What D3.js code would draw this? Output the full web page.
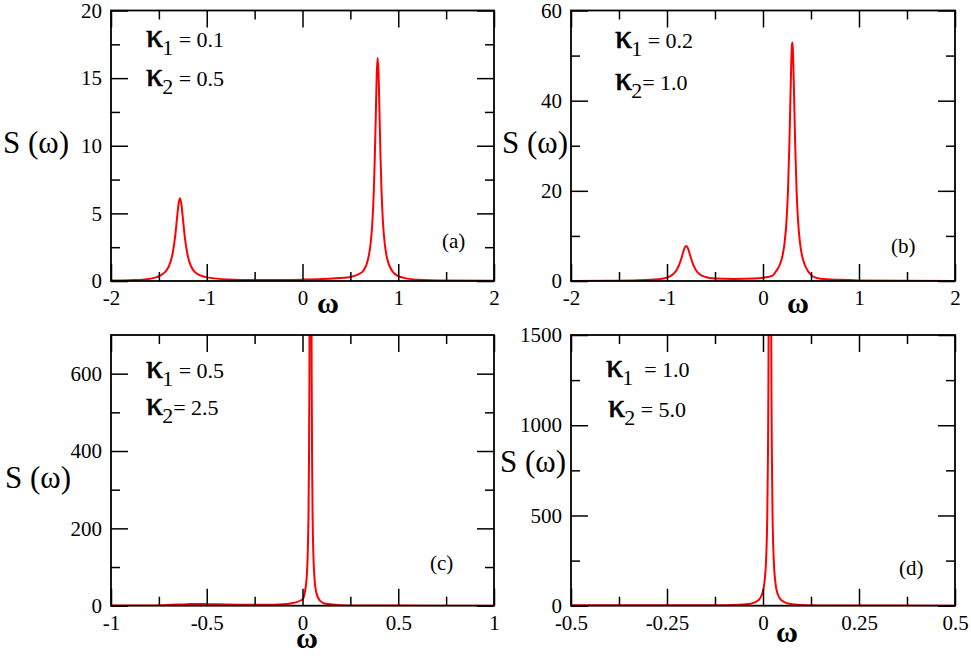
<!DOCTYPE html>
<html>
<head>
<meta charset="utf-8">
<script src="https://cdn.jsdelivr.net/npm/d3@7"></script>
<style>
  body { margin: 0; background: #fff; }
  svg text { fill: #000; white-space: pre; }
</style>
</head>
<body>
<div id="chart"></div>
<script>
// panel (a): kappa1 = 0.1, kappa2 = 0.5
var omegaA = [-2.0, -1.8, -1.65, -1.55, -1.48, -1.42, -1.38, -1.355, -1.33, -1.31, -1.295, -1.28,
  -1.265, -1.25, -1.23, -1.205, -1.18, -1.14, -1.08, -0.98, -0.78, -0.5, -0.2, 0.0, 0.2, 0.35,
  0.485, 0.585, 0.635, 0.685, 0.71, 0.73, 0.745, 0.755, 0.765, 0.775, 0.785,
  0.795, 0.805, 0.815, 0.825, 0.84, 0.86, 0.885, 0.935, 0.985, 1.05, 1.2, 1.5, 2.0];
var specA = [0.03, 0.06, 0.12, 0.23, 0.42, 0.79, 1.38, 2.09, 3.3, 4.68, 5.68, 6.12,
  5.68, 4.68, 3.3, 2.09, 1.38, 0.79, 0.45, 0.25, 0.12, 0.08, 0.08, 0.1, 0.14, 0.2,
  0.28, 0.5, 0.76, 1.63, 2.69, 4.38, 6.71, 9.07, 12.1, 15.2, 16.5,
  15.2, 12.1, 9.07, 6.71, 4.38, 2.69, 1.63, 0.76, 0.42, 0.25, 0.1, 0.04, 0.02];

// panel (b): kappa1 = 0.2, kappa2 = 1.0
var omegaB = [-2.0, -1.6, -1.3, -1.1, -1.0, -0.94, -0.9, -0.875, -0.85, -0.83, -0.815, -0.8,
  -0.785, -0.77, -0.75, -0.725, -0.7, -0.66, -0.6, -0.5, -0.3, -0.1, 0.0, 0.1, 0.135,
  0.175, 0.205, 0.225, 0.245, 0.26, 0.275, 0.285, 0.295, 0.3, 0.305,
  0.31, 0.315, 0.325, 0.335, 0.35, 0.365, 0.385, 0.405, 0.435, 0.475, 0.52, 0.6, 0.8, 1.0, 1.5, 2.0];
var specB = [0.02, 0.06, 0.16, 0.38, 0.75, 1.45, 2.46, 3.5, 5.04, 6.49, 7.4, 7.76,
  7.4, 6.49, 5.04, 3.5, 2.46, 1.5, 0.9, 0.55, 0.45, 0.55, 0.72, 1.2, 2.15,
  3.6, 5.8, 8.5, 13.4, 19.9, 30.5, 39.9, 48.9, 51.8, 52.9,
  51.8, 48.9, 39.9, 30.5, 19.9, 13.4, 8.5, 5.8, 3.6, 2.0, 1.0, 0.5, 0.25, 0.12, 0.04, 0.02];

// panel (c): kappa1 = 0.5, kappa2 = 2.5
var omegaC = [-1.0, -0.8, -0.7, -0.6, -0.55, -0.5, -0.4, -0.3, -0.2, -0.1, -0.05, 0.0, 0.012,
  0.022, 0.027, 0.031, 0.034, 0.036, 0.038, 0.04, 0.042, 0.044, 0.046, 0.048, 0.05, 0.053,
  0.057, 0.062, 0.072, 0.092, 0.122, 0.2, 0.3, 0.5, 1.0];
var specC = [0.3, 0.8, 2, 4, 4.5, 4, 3, 2.5, 2.5, 4, 7, 16, 34,
  75, 129, 225, 381, 577, 911, 1398, 1700, 1398, 911, 577, 381, 225,
  129, 75, 34, 12.5, 4.9, 1.4, 0.6, 0.2, 0.05];

// panel (d): kappa1 = 1.0, kappa2 = 5.0
var omegaD = [-0.5, -0.4, -0.3, -0.2, -0.1, -0.062, -0.032, -0.012, -0.002, 0.004, 0.008, 0.011,
  0.013, 0.014, 0.015, 0.016, 0.017, 0.018, 0.019, 0.02, 0.021, 0.022, 0.023, 0.025, 0.028,
  0.032, 0.038, 0.048, 0.068, 0.098, 0.168, 0.3, 0.5];
var specD = [3, 2.5, 2, 2, 3, 5, 11, 30, 66, 133, 253, 485,
  851, 1188, 1716, 2513, 3484, 4000, 3484, 2513, 1716, 1188, 851, 485, 253,
  133, 66, 30, 10.8, 4.2, 1.2, 0.5, 0.2];

// axis ranges and ticks
var xDomainAB = [-2, 2], xMajorAB = [-2, -1, 0, 1, 2], xMinorAB = [-1.5, -0.5, 0.5, 1.5];
var xDomainC = [-1, 1], xMajorC = [-1, -0.5, 0, 0.5, 1], xMinorC = [-0.75, -0.25, 0.25, 0.75];
var xDomainD = [-0.5, 0.5], xMajorD = [-0.5, -0.25, 0, 0.25, 0.5], xMinorD = [-0.375, -0.125, 0.125, 0.375];
var yDomainA = [0, 20], yMajorA = [0, 5, 10, 15, 20], yMinorA = [2.5, 7.5, 12.5, 17.5];
var yDomainB = [0, 60], yMajorB = [0, 20, 40, 60], yMinorB = [10, 30, 50];
var yDomainC = [0, 700], yMajorC = [0, 200, 400, 600], yMinorC = [100, 300, 500];
var yDomainD = [0, 1500], yMajorD = [0, 500, 1000, 1500], yMinorD = [250, 750, 1250];

// annotations
var kappa1 = ["0.1", "0.2", "0.5", "1.0"];
var kappa2 = ["0.5", "1.0", "2.5", "5.0"];
var eqGap1 = [" = ", " = ", " = ", "  = "];
var eqGap2 = [" = ", "= ", "= ", " = "];
var panelTags = ["(a)", "(b)", "(c)", "(d)"];

var panels = [
  {omega: omegaA, s: specA, xd: xDomainAB, xM: xMajorAB, xm: xMinorAB, yd: yDomainA, yM: yMajorA, ym: yMinorA,
   box: [111, 494, 10.5, 281], ylab: [3, 153], wlab: [328, 313], k1: [146, 47], k2: [146, 86], tag: [442, 248]},
  {omega: omegaB, s: specB, xd: xDomainAB, xM: xMajorAB, xm: xMinorAB, yd: yDomainB, yM: yMajorB, ym: yMinorB,
   box: [571, 955, 10.5, 281], ylab: [502, 153], wlab: [798, 313], k1: [615, 48], k2: [615, 90], tag: [891, 253]},
  {omega: omegaC, s: specC, xd: xDomainC, xM: xMajorC, xm: xMinorC, yd: yDomainC, yM: yMajorC, ym: yMinorC,
   box: [111, 494, 335, 605.7], ylab: [5, 488], wlab: [307, 648], k1: [146, 378], k2: [146, 415], tag: [430, 570]},
  {omega: omegaD, s: specD, xd: xDomainD, xM: xMajorD, xm: xMinorD, yd: yDomainD, yM: yMajorD, ym: yMinorD,
   box: [571, 955, 335, 605.7], ylab: [500, 472], wlab: [787, 642], k1: [606, 377], k2: [608, 417], tag: [899, 575]}
];

var serif = "Liberation Serif";

var svg = d3.select("#chart")
  .append("svg")
    .attr("width", 971)
    .attr("height", 656)
    .attr("font-family", serif);

var majorLen = 17, minorLen = 9;

panels.forEach(function(p, i) {
  var x0 = p.box[0], x1 = p.box[1], y0 = p.box[2], y1 = p.box[3];
  var w = x1 - x0, h = y1 - y0;

  var x = d3.scaleLinear().domain(p.xd).range([0, w]);
  var y = d3.scaleLinear().domain(p.yd).range([h, 0]);

  var g = svg.append("g").attr("transform", "translate(" + x0 + "," + y0 + ")");

  g.append("clipPath").attr("id", "clip" + i)
    .append("rect").attr("width", w).attr("height", h);

  // the spectrum
  var pts = p.omega.map(function(o, j) { return [o, p.s[j]]; });
  g.append("path")
    .datum(pts)
    .attr("clip-path", "url(#clip" + i + ")")
    .attr("fill", "none")
    .attr("stroke", "#ff0000")
    .attr("stroke-width", 2)
    .attr("d", d3.line()
      .x(function(d) { return x(d[0]); })
      .y(function(d) { return y(d[1]); })
      .curve(d3.curveMonotoneX));

  // ticks: major with labels, minor without, mirrored on all four sides
  function ticks(axisFn, scale, vals, len, labels, tr) {
    var a = g.append("g").attr("transform", tr)
      .call(axisFn(scale).tickValues(vals).tickSize(-len).tickSizeOuter(0)
        .tickPadding(9).tickFormat(labels ? function(d) { return String(d); } : ""));
    a.attr("font-family", serif).attr("font-size", 21);
    a.select(".domain").remove();
    a.selectAll("line").attr("stroke", "#000").attr("stroke-width", 1.5);
    a.selectAll("text").attr("fill", "#000");
    return a;
  }
  ticks(d3.axisBottom, x, p.xM, majorLen, true, "translate(0," + h + ")");
  ticks(d3.axisBottom, x, p.xm, minorLen, false, "translate(0," + h + ")");
  ticks(d3.axisTop, x, p.xM, majorLen, false, "translate(0,0)");
  ticks(d3.axisTop, x, p.xm, minorLen, false, "translate(0,0)");
  ticks(d3.axisLeft, y, p.yM, majorLen, true, "translate(0,0)");
  ticks(d3.axisLeft, y, p.ym, minorLen, false, "translate(0,0)");
  ticks(d3.axisRight, y, p.yM, majorLen, false, "translate(" + w + ",0)");
  ticks(d3.axisRight, y, p.ym, minorLen, false, "translate(" + w + ",0)");

  // frame
  g.append("rect")
    .attr("width", w).attr("height", h)
    .attr("fill", "none").attr("stroke", "#000").attr("stroke-width", 1.8);

  // axis titles
  svg.append("text")
    .attr("x", p.ylab[0]).attr("y", p.ylab[1])
    .attr("font-size", 31)
    .text("S (ω)");
  svg.append("text")
    .attr("x", p.wlab[0]).attr("y", p.wlab[1])
    .attr("text-anchor", "middle")
    .attr("font-size", 30).attr("font-weight", "bold")
    .text("ω");

  // kappa annotations
  function kappa(pos, sub, gap, val) {
    var t = svg.append("text").attr("x", pos[0]).attr("y", pos[1]);
    t.append("tspan").attr("font-size", 34)
      .attr("stroke", "#000").attr("stroke-width", 0.7).text("κ");
    t.append("tspan").attr("font-size", 22).attr("dy", 8).attr("dx", -1).text(sub);
    t.append("tspan").attr("font-size", 22).attr("dy", -8).text(gap + val);
  }
  kappa(p.k1, "1", eqGap1[i], kappa1[i]);
  kappa(p.k2, "2", eqGap2[i], kappa2[i]);

  svg.append("text")
    .attr("x", p.tag[0]).attr("y", p.tag[1])
    .attr("font-size", 21)
    .text(panelTags[i]);
});
</script>
</body>
</html>
